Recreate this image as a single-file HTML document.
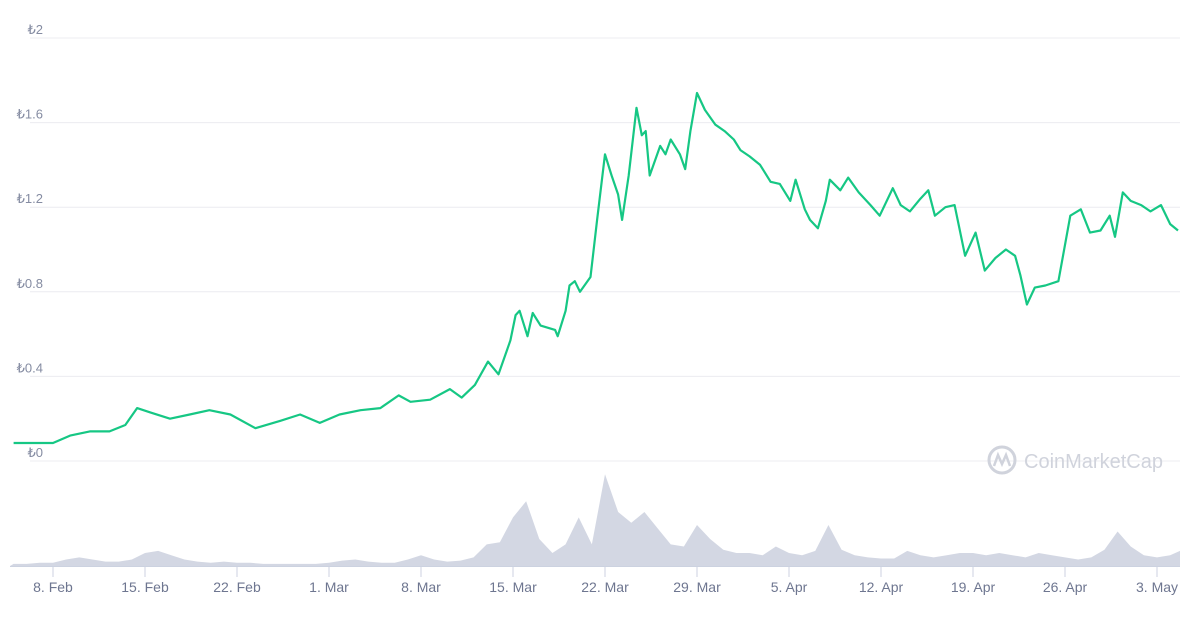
<!DOCTYPE html>
<html><head><meta charset="utf-8"><style>
body{margin:0;background:#fff;width:1200px;height:629px;overflow:hidden;font-family:"Liberation Sans",sans-serif}
</style></head><body>
<svg id="chart" width="1200" height="629" xmlns="http://www.w3.org/2000/svg"></svg>
<script>
const yTicks=[0,0.4,0.8,1.2,1.6,2];
const yTickLabels=["₺0","₺0.4","₺0.8","₺1.2","₺1.6","₺2"];
const xTickDays=[0,7,14,21,28,35,42,49,56,63,70,77,84];
const xTickLabels=["8. Feb","15. Feb","22. Feb","1. Mar","8. Mar","15. Mar","22. Mar","29. Mar","5. Apr","12. Apr","19. Apr","26. Apr","3. May"];
const priceDays=[-3,0,1.3,2.8,4.3,5.5,6.4,7.4,8.9,10.4,11.9,13.5,15.4,17.3,18.8,20.3,21.8,23.4,24.9,26.3,27.2,28.7,30.2,31.1,32.1,33.1,33.9,34.8,35.2,35.5,36.1,36.5,37.1,38.2,38.4,39.0,39.3,39.7,40.1,40.9,41.4,42.0,42.5,43.0,43.3,43.8,44.4,44.8,45.1,45.4,46.2,46.6,47.0,47.7,48.1,48.5,49.0,49.6,50.4,51.1,51.8,52.3,53.0,53.8,54.6,55.3,56.1,56.5,57.2,57.6,58.2,58.8,59.1,59.9,60.5,61.3,62.2,62.9,63.9,64.5,65.2,66.0,66.6,67.1,67.9,68.6,69.4,70.2,70.9,71.7,72.5,73.2,73.6,74.1,74.7,75.5,76.5,77.4,78.2,78.9,79.7,80.4,80.8,81.4,82.0,82.8,83.5,84.3,85.0,85.6];
const prices=[0.085,0.085,0.12,0.14,0.14,0.17,0.25,0.23,0.20,0.22,0.24,0.22,0.155,0.19,0.22,0.18,0.22,0.24,0.25,0.31,0.28,0.29,0.34,0.30,0.36,0.47,0.41,0.57,0.69,0.71,0.59,0.70,0.64,0.62,0.59,0.71,0.83,0.85,0.80,0.87,1.14,1.45,1.35,1.26,1.14,1.35,1.67,1.54,1.56,1.35,1.49,1.45,1.52,1.45,1.38,1.56,1.74,1.66,1.59,1.56,1.52,1.47,1.44,1.40,1.32,1.31,1.23,1.33,1.19,1.14,1.10,1.23,1.33,1.28,1.34,1.27,1.21,1.16,1.29,1.21,1.18,1.24,1.28,1.16,1.20,1.21,0.97,1.08,0.90,0.96,1.00,0.97,0.88,0.74,0.82,0.83,0.85,1.16,1.19,1.08,1.09,1.16,1.06,1.27,1.23,1.21,1.18,1.21,1.12,1.09];
const volumeStartDay=-3;
const volumes=[2,2,3,3,6,8,6,4,4,6,12,14,10,6,4,3,4,3,3,2,2,2,2,2,3,5,6,4,3,3,6,10,6,4,5,8,20,22,45,60,25,12,20,45,20,85,50,40,50,35,20,18,38,25,15,12,12,10,18,12,10,14,38,15,10,8,7,7,14,10,8,10,12,12,10,12,10,8,12,10,8,6,8,15,32,18,10,8,10,14];
const NS="http://www.w3.org/2000/svg";
const svg=document.getElementById('chart');
const X0=10,X1=1180;
const xs=d=>53+d*13.143;
const ys=v=>461-v*211.5;
const vy=v=>566-v*1.08;
function mk(t,a,p){const e=document.createElementNS(NS,t);for(const k in a)e.setAttribute(k,a[k]);(p||svg).appendChild(e);return e;}
yTicks.forEach((v,i)=>{
 const g=mk('line',{x1:X0+20,x2:X1,y1:ys(v),y2:ys(v),stroke:'#ececf0','stroke-width':1});
 
 
 const t=mk('text',{x:43,y:ys(v)-4,'text-anchor':'end','font-size':13,fill:'#858ca2'});
 t.textContent=yTickLabels[i];
 
 
});
const wm=mk('g',{});


mk('circle',{cx:1002,cy:460,r:13,fill:'none',stroke:'#d0d3dc','stroke-width':3},wm);
mk('path',{d:'M994 466 L998 455 L1002 464 L1006 455 L1010 466',fill:'none',stroke:'#d0d3dc','stroke-width':2.5},wm);
const wt=mk('text',{x:1024,y:468,'font-size':20,fill:'#d0d3dc'},wm);
wt.textContent='CoinMarketCap';
let vp=`M${Math.max(X0,xs(volumeStartDay)-6.5)} 566`;
volumes.forEach((v,i)=>{const x=Math.min(X1,Math.max(X0,xs(volumeStartDay+i)));vp+=` L${x} ${vy(v)}`;});
vp+=` L${X1} ${vy(volumes[volumes.length-1])} L${X1} 566 Z`;
const va=mk('path',{d:vp,fill:'#d3d7e3'});


const ax=mk('line',{x1:X0,x2:X1,y1:566.5,y2:566.5,stroke:'#ccd2e0'});


xTickDays.forEach((d,i)=>{
 const tk=mk('line',{x1:xs(d),x2:xs(d),y1:566,y2:577,stroke:'#ccd2e0'});
 
 
 const t=mk('text',{x:xs(d),y:592,'text-anchor':'middle','font-size':14,fill:'#6e7690'});
 t.textContent=xTickLabels[i];
 
 
});
const pd=priceDays.map((d,i)=>(i?'L':'M')+xs(d).toFixed(1)+' '+ys(prices[i]).toFixed(1)).join(' ');
const pl=mk('path',{d:pd,fill:'none',stroke:'#16c784','stroke-width':2.2,'stroke-linejoin':'round'});


</script>
</body></html>
